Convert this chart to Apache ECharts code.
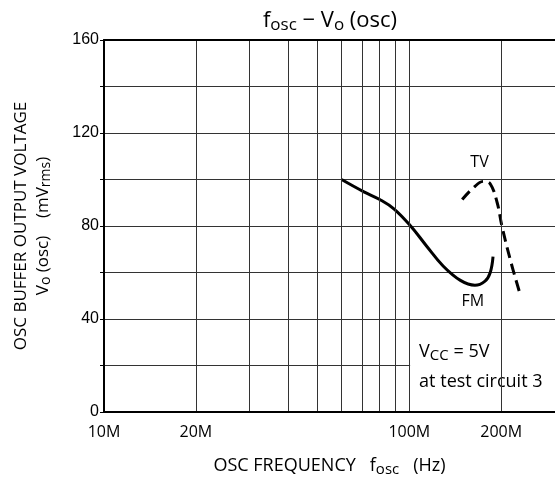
<!DOCTYPE html>
<html>
<head>
<meta charset="utf-8">
<script src="https://cdn.jsdelivr.net/npm/echarts@6/dist/echarts.min.js"></script>
<style>
html,body{margin:0;padding:0;background:#fff;}
#chart{width:555px;height:483px;}
</style>
</head>
<body>
<div id="chart"></div>
<script>
// FM curve (solid)
const fmFreq = [60e6, 71e6, 80e6, 89e6, 101e6, 114e6, 129e6, 147e6, 164e6, 177e6, 184e6, 188e6];
const fmVolt = [100, 94.7, 91.4, 87.4, 80, 71.3, 62.8, 56.6, 54.5, 56.3, 59.9, 66.8];
// TV curve (dashed)
const tvFreq = [149e6, 162e6, 175e6, 184e6, 194e6, 201e6, 214e6, 229e6];
const tvVolt = [91.4, 96.4, 99.2, 98.2, 90, 80, 65.6, 52];
// vertical grid lines and x tick labels
const gridFreqs = [10e6, 20e6, 30e6, 40e6, 50e6, 60e6, 70e6, 80e6, 90e6, 100e6, 200e6];
const xTickLabels = ['10M', '20M', '', '', '', '', '', '', '', '100M', '200M'];
// y axis
const yMin = 0, yMax = 160, yStep = 20;
const yLabelValues = [0, 40, 80, 120, 160];

const FONT = "'Open Sans', 'Noto Sans', sans-serif";

const chart = echarts.init(document.getElementById('chart'), null, { renderer: 'canvas' });

const fmData = fmFreq.map((f, i) => [f, fmVolt[i]]);
const tvData = tvFreq.map((f, i) => [f, tvVolt[i]]);

const gridLineData = gridFreqs.map((f, i) => ({
  xAxis: f,
  lineStyle: i === 0 ? { color: 'rgba(0,0,0,0)' } : undefined,
  label: { show: xTickLabels[i] !== '', formatter: xTickLabels[i] }
}));

const curveLabel = { fontFamily: FONT, fontSize: 16, color: '#000' };

const option = {
  backgroundColor: '#fff',
  animation: false,
  title: {
    text: 'f{sub|osc} − V{sub|o} (osc)',
    left: 325, top: 1, textAlign: 'center',
    textStyle: {
      fontFamily: FONT, fontSize: 22, fontWeight: 'normal', color: '#000', lineHeight: 30,
      rich: { sub: { fontSize: 17, fontFamily: FONT, color: '#000', padding: [9, 0, 0, 0] } }
    }
  },
  grid: { left: 104, right: 0, top: 40, bottom: 69, show: false },
  xAxis: [{
    type: 'log', logBase: 10, min: 10e6, max: 300e6, z: 10,
    axisLine: { show: true, lineStyle: { color: '#000', width: 2 } },
    axisTick: { show: false },
    axisLabel: { show: false },
    splitLine: { show: false },
    name: 'OSC FREQUENCY   f{sub|osc}   (Hz)',
    nameLocation: 'middle', nameGap: 42,
    nameTextStyle: {
      fontFamily: FONT, fontSize: 18, color: '#000', lineHeight: 24,
      rich: { sub: { fontSize: 15, fontFamily: FONT, color: '#000', padding: [8, 0, 0, 0] } }
    }
  }, {
    type: 'value', position: 'top', min: 0, max: 1, z: 10,
    axisLine: { show: true, onZero: false, lineStyle: { color: '#000', width: 2 } },
    axisTick: { show: false }, axisLabel: { show: false }, splitLine: { show: false }
  }],
  yAxis: {
    type: 'value', min: yMin, max: yMax, interval: yStep,
    axisLine: { show: true, lineStyle: { color: '#000', width: 2 } },
    axisTick: { show: true, inside: false, length: 4, lineStyle: { color: '#000' } },
    axisLabel: {
      margin: 5, fontFamily: "'Liberation Sans', Arial, sans-serif", fontSize: 16, color: '#000',
      formatter: v => yLabelValues.indexOf(v) >= 0 ? String(v) : ''
    },
    splitLine: { show: true, lineStyle: { color: '#333', width: 1 } },
    name: 'OSC BUFFER OUTPUT VOLTAGE\nV{sub|o} (osc)    (mV{sub|rms})',
    nameLocation: 'middle', nameRotate: 90, nameGap: 50,
    nameTextStyle: {
      fontFamily: FONT, fontSize: 17, color: '#000', lineHeight: 22, align: 'center',
      rich: { sub: { fontSize: 14, fontFamily: FONT, color: '#000', padding: [7, 0, 0, 0] } }
    }
  },
  series: [
    {
      type: 'line', data: [], z: 2, silent: true,
      markLine: {
        silent: true, symbol: 'none', animation: false,
        lineStyle: { color: '#333', width: 1, type: 'solid' },
        label: { position: 'start', distance: 12, fontFamily: FONT, fontSize: 16, color: '#000' },
        emphasis: { disabled: true },
        data: gridLineData
      }
    },
    {
      type: 'line', data: [], z: 3, silent: true,
      markArea: {
        silent: true,
        itemStyle: { color: '#fff', opacity: 1 },
        label: {
          show: true, position: 'insideLeft', distance: 9,
          formatter: 'V{sub|CC} = 5V\nat test circuit 3',
          fontFamily: FONT, fontSize: 18, color: '#000', lineHeight: 30,
          rich: { sub: { fontSize: 15, fontFamily: FONT, color: '#000', padding: [7, 0, 0, 0] } }
        },
        data: [[{ coord: [100.6e6, 0] }, { coord: [300e6, 38.8] }]]
      }
    },
    {
      name: 'FM', type: 'line', z: 4, data: fmData, smooth: 0.4, symbol: 'none', showSymbol: false,
      lineStyle: { color: '#000', width: 3 },
      markPoint: {
        silent: true, symbol: 'circle', symbolSize: 0,
        label: Object.assign({ show: true, position: 'bottom', distance: 8, formatter: 'FM', offset: [-2, 0] }, curveLabel),
        data: [{ coord: [fmFreq[8], fmVolt[8]] }]
      }
    },
    {
      name: 'TV', type: 'line', z: 4, data: tvData, smooth: 0.4, symbol: 'none', showSymbol: false,
      lineStyle: { color: '#000', width: 3, type: [11, 6] },
      markPoint: {
        silent: true, symbol: 'circle', symbolSize: 0,
        label: Object.assign({ show: true, position: 'top', distance: 11, formatter: 'TV', offset: [-4, 0] }, curveLabel),
        data: [{ coord: [tvFreq[2], tvVolt[2]] }]
      }
    }
  ]
};
chart.setOption(option);
</script>
</body>
</html>
